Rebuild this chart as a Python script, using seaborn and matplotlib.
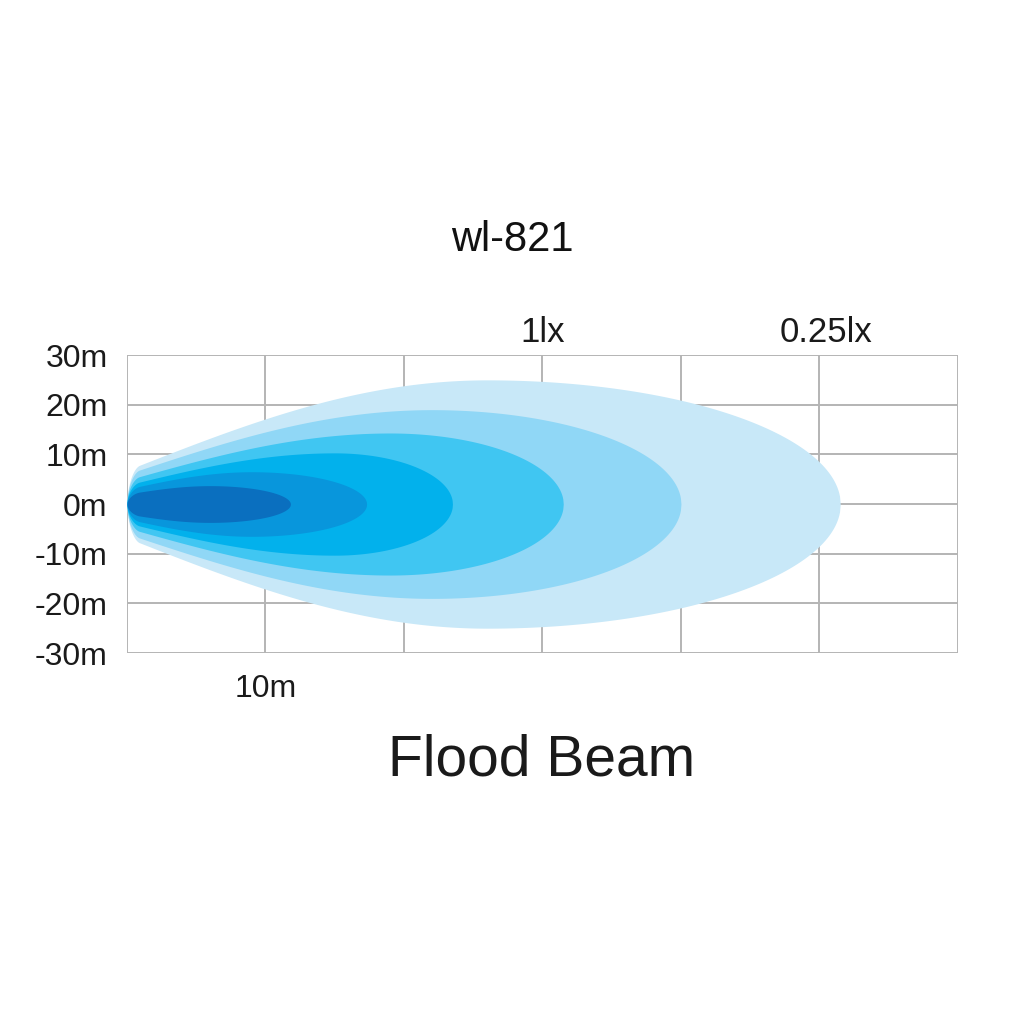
import numpy as np
import matplotlib
matplotlib.use("Agg")
import matplotlib.pyplot as plt
import seaborn as sns

# ---- data ----
title_text = "wl-821"
subtitle_text = "Flood Beam"
zone_names = ["zone1", "zone2", "zone3", "zone4", "zone5", "zone6"]
beam_reach_m = [51.5, 40.0, 31.5, 23.5, 17.3, 11.8]
beam_half_width_m = [25.0, 19.0, 14.3, 10.3, 6.5, 3.7]
beam_peak_at_m = [26.0, 22.0, 19.0, 15.0, 9.0, 6.0]
beam_start_half_width_m = [6.8, 6.0, 4.8, 3.8, 3.0, 2.0]
beam_colors = ["#c8e8f8", "#90d7f6", "#40c6f2", "#02b1ec", "#0896dc", "#0a6fbf"]
lux_labels = ["1lx", "0.25lx"]
lux_label_x = [30.0, 50.5]
x_ticks = [0, 10, 20, 30, 40, 50, 60]
x_tick_labels = ["", "10m", "", "", "", "", ""]
y_ticks = [-30, -20, -10, 0, 10, 20, 30]
y_tick_labels = ["-30m", "-20m", "-10m", "0m", "10m", "20m", "30m"]

sns.set_theme(style="white")
plt.rcParams["font.family"] = ["Liberation Sans", "DejaVu Sans"]

fig = plt.figure(figsize=(10.24, 10.24), dpi=100)
ax = fig.add_axes([0.124, 0.3623, 0.8115, 0.291])


def half_width(x, L, H, c, w0, n=0.9):
    rise = w0 + (H - w0) * np.sin(np.pi / 2 * np.clip(x / c, 0, 1))
    nose = np.sqrt(np.clip(1 - (1 - np.clip(x / n, 0, 1)) ** 2, 0, 1))
    u = np.clip((x - c) / (L - c), 0, 1)
    fall = H * np.sqrt(np.clip(1 - u ** 2, 0, 1))
    return np.where(x < c, rise * nose, fall)


grid_col = "#b4b4b4"
for v in x_ticks:
    ax.axvline(v, color=grid_col, lw=1.4, zorder=0)
for v in y_ticks:
    ax.axhline(v, color=grid_col, lw=1.4, zorder=0)

for name, L, H, c, w0, col in zip(zone_names, beam_reach_m, beam_half_width_m,
                                  beam_peak_at_m, beam_start_half_width_m, beam_colors):
    xs = np.concatenate([np.linspace(0, 1, 300), np.linspace(1, L, 1000)])
    w = half_width(xs, L, H, c, w0)
    ax.fill_between(xs, -w, w, color=col, lw=0, zorder=2, label=name)

ax.set_xlim(0, 60)
ax.set_ylim(-30, 30)
ax.set_xticks(x_ticks)
ax.set_xticklabels(x_tick_labels, fontsize=23, color="#1a1a1a")
ax.set_yticks(y_ticks)
ax.set_yticklabels(y_tick_labels, fontsize=23, color="#1a1a1a")
ax.tick_params(axis="both", length=3, width=1.2, color=grid_col, direction="out")
ax.tick_params(axis="y", pad=11)
ax.tick_params(axis="x", pad=12)
for s in ax.spines.values():
    s.set_visible(False)

for t, xv in zip(lux_labels, lux_label_x):
    ax.text(xv, 31.2, t, ha="center", va="bottom", fontsize=25,
            color="#1a1a1a", clip_on=False)

fig.text(0.5, 0.766, title_text, ha="center", va="center", fontsize=30, color="#111111")
fig.text(0.529, 0.257, subtitle_text, ha="center", va="center", fontsize=41, color="#1a1a1a")

fig.savefig("out.png", dpi=100, facecolor="white")
